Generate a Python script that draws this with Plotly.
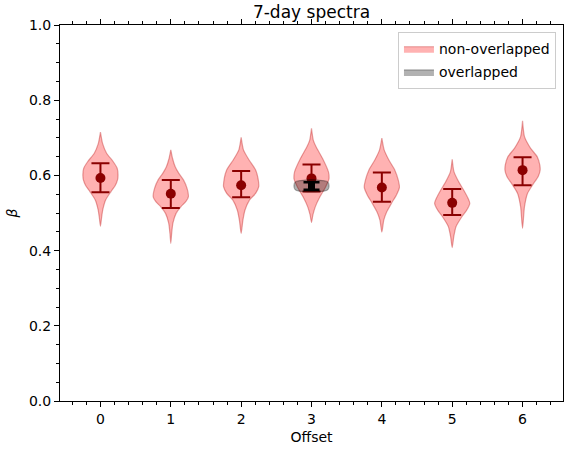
import plotly.graph_objects as go

offsets = [0, 1, 2, 3, 4, 5, 6]
means = [0.593, 0.551, 0.574, 0.592, 0.568, 0.527, 0.614]
upper = [0.632, 0.588, 0.612, 0.629, 0.608, 0.564, 0.648]
lower = [0.555, 0.513, 0.542, 0.557, 0.530, 0.495, 0.574]

# violin outlines: beta levels and relative half-widths (1 = full width)
prof_y = [
    [0.465, 0.486, 0.508, 0.535, 0.557, 0.574, 0.588, 0.601, 0.619, 0.637, 0.659, 0.685, 0.715],
    [0.419, 0.446, 0.473, 0.499, 0.517, 0.530, 0.543, 0.566, 0.588, 0.606, 0.623, 0.645, 0.668],
    [0.446, 0.481, 0.508, 0.535, 0.552, 0.570, 0.592, 0.614, 0.641, 0.668, 0.701],
    [0.475, 0.495, 0.517, 0.543, 0.570, 0.592, 0.610, 0.645, 0.676, 0.694, 0.725],
    [0.449, 0.481, 0.503, 0.526, 0.548, 0.568, 0.588, 0.614, 0.641, 0.668, 0.699],
    [0.408, 0.437, 0.464, 0.490, 0.508, 0.526, 0.539, 0.561, 0.583, 0.610, 0.643],
    [0.459, 0.517, 0.552, 0.574, 0.597, 0.614, 0.628, 0.650, 0.672, 0.703, 0.745],
]
prof_w = [
    [0.0, 0.06, 0.13, 0.30, 0.60, 0.85, 0.97, 1.0, 0.95, 0.72, 0.35, 0.12, 0.0],
    [0.0, 0.05, 0.12, 0.30, 0.58, 0.85, 1.0, 0.92, 0.72, 0.45, 0.25, 0.10, 0.0],
    [0.0, 0.10, 0.22, 0.48, 0.82, 1.0, 0.96, 0.83, 0.45, 0.13, 0.0],
    [0.0, 0.08, 0.22, 0.48, 0.81, 1.0, 0.96, 0.63, 0.26, 0.10, 0.0],
    [0.0, 0.11, 0.28, 0.55, 0.83, 1.0, 0.93, 0.74, 0.40, 0.13, 0.0],
    [0.0, 0.09, 0.22, 0.55, 0.83, 1.0, 0.90, 0.65, 0.37, 0.10, 0.0],
    [0.0, 0.11, 0.28, 0.56, 0.89, 1.0, 0.98, 0.83, 0.46, 0.11, 0.0],
]

# overlapped (grey) violin at offset 3
ov_offset = 3
ov_y = [0.556, 0.558, 0.562, 0.572, 0.582, 0.586, 0.589]
ov_w = [0.0, 0.70, 0.93, 1.0, 0.93, 0.70, 0.0]
ov_mean = [0.573]
ov_upper = [0.582]
ov_lower = [0.562]

half_width = 0.25
font = "DejaVu Sans"

fig = go.Figure()


def violin_xy(pos, ys, ws):
    xs = [pos + half_width * w for w in ws] + [pos - half_width * w for w in reversed(ws)]
    yy = list(ys) + list(reversed(ys))
    return xs, yy


for i, pos in enumerate(offsets):
    xs, yy = violin_xy(pos, prof_y[i], prof_w[i])
    fig.add_trace(go.Scatter(
        x=xs, y=yy, mode="lines", fill="toself",
        fillcolor="rgba(255,0,0,0.3)",
        line=dict(color="rgba(190,30,30,0.4)", width=1.2, shape="spline", smoothing=0.6),
        name="non-overlapped", legendgroup="non", showlegend=(i == 0),
        hoverinfo="skip",
    ))

fig.add_trace(go.Scatter(
    x=offsets, y=means, mode="markers",
    marker=dict(color="darkred", size=10),
    error_y=dict(type="data", symmetric=False,
                 array=[u - m for u, m in zip(upper, means)],
                 arrayminus=[m - l for m, l in zip(means, lower)],
                 color="darkred", thickness=2, width=9),
    showlegend=False,
))

xs, yy = violin_xy(ov_offset, ov_y, ov_w)
fig.add_trace(go.Scatter(
    x=xs, y=yy, mode="lines", fill="toself",
    fillcolor="rgba(0,0,0,0.3)",
    line=dict(color="rgba(0,0,0,0.3)", width=1.2, shape="spline", smoothing=0.6),
    name="overlapped", legendgroup="ov", showlegend=True, hoverinfo="skip",
))

fig.add_trace(go.Scatter(
    x=[ov_offset], y=ov_mean, mode="markers",
    marker=dict(color="black", size=7, symbol="square"),
    error_y=dict(type="data", symmetric=False,
                 array=[u - m for u, m in zip(ov_upper, ov_mean)],
                 arrayminus=[m - l for m, l in zip(ov_mean, ov_lower)],
                 color="black", thickness=2.5, width=8),
    showlegend=False,
))

axis_common = dict(
    showline=True, linecolor="black", linewidth=1, mirror="ticks",
    ticks="outside", ticklen=5, tickwidth=1, tickcolor="black",
    showgrid=False, zeroline=False, automargin=False,
    tickfont=dict(family=font, size=14, color="black"),
)

fig.update_xaxes(
    range=[-0.575, 6.575], tickmode="array", tickvals=offsets,
    ticktext=[str(o) for o in offsets],
    minor=dict(dtick=0.2, tick0=0, ticks="outside", ticklen=3, tickcolor="black", showgrid=False),
    title=dict(text="Offset", font=dict(family=font, size=14, color="black"), standoff=6),
    **axis_common,
)
fig.update_yaxes(
    range=[0, 1], dtick=0.2, tick0=0, tickformat=".1f",
    minor=dict(dtick=0.05, tick0=0, ticks="outside", ticklen=3, tickcolor="black", showgrid=False),
    title=dict(text="<i>β</i>", font=dict(family=font, size=14, color="black"), standoff=8),
    **axis_common,
)

fig.update_layout(
    width=564, height=449,
    margin=dict(l=60, r=1, t=25, b=48, autoexpand=False),
    plot_bgcolor="white", paper_bgcolor="white",
    title=dict(text="7-day spectra", font=dict(family=font, size=17, color="black"),
               x=0.5, xref="paper", xanchor="center",
               y=1 - 12 / 449, yref="container", yanchor="middle"),
    legend=dict(x=0.986, y=0.981, xanchor="right", yanchor="top",
                bgcolor="rgba(255,255,255,0.8)", bordercolor="#cccccc", borderwidth=1,
                font=dict(family=font, size=14, color="black"),
                itemwidth=30, tracegroupgap=2),
    font=dict(family=font),
    showlegend=True,
)

fig.write_html("out.html")
